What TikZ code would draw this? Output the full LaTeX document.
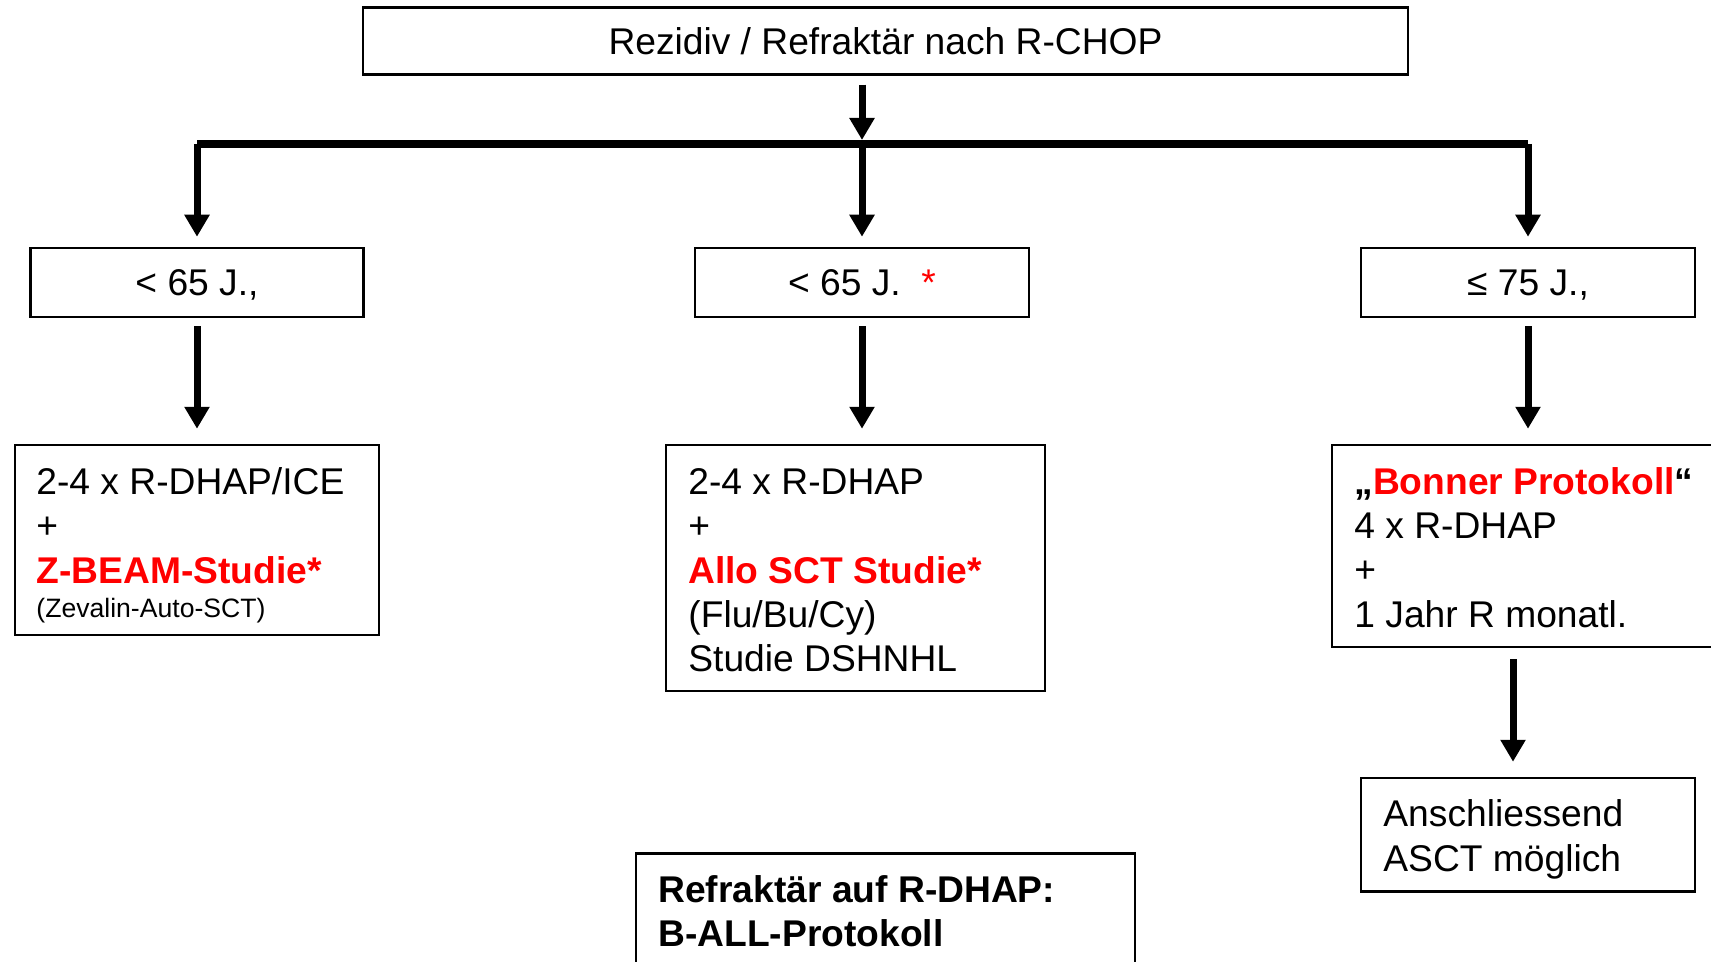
\documentclass[tikz,border=0pt]{standalone}
\usepackage{fontspec}
\setmainfont{Liberation Sans}
\usetikzlibrary{arrows.meta}
\definecolor{accent}{RGB}{255,0,0}

\begin{document}
\begin{tikzpicture}[x=0.5pt, y=-0.5pt,
  box/.style={draw=black, line width=1.25pt, inner sep=0pt},
  oneline/.style={box, font=\fontsize{18.6}{22}\selectfont,
    text height=13.3pt, text depth=0pt},
  txt/.style={anchor=base west, inner sep=0pt, font=\fontsize{18.6}{22}\selectfont},
  small/.style={txt, font=\fontsize{13.3}{16}\selectfont},
  arr/.style={line width=3.5pt, line cap=butt,
    -{Triangle[length=11pt, width=12pt]}},
  bar/.style={line width=4pt, line cap=butt},
  hot/.style={text=accent, font=\fontsize{18.6}{22}\selectfont\bfseries}]

\useasboundingbox (0,0) rectangle (1711,962);
\clip (0,0) rectangle (1711,962);

% --- boxes -----------------------------------------------------------
\node[oneline, minimum width=522.5pt, minimum height=33.5pt] (top) at (885.5,41)
  {Rezidiv / Refraktär nach R-CHOP};

\node[oneline, minimum width=166.5pt, minimum height=34.5pt] (age1) at (197,282.5)
  {< 65 J.,};
\node[oneline, minimum width=167pt, minimum height=34.5pt] (age2) at (862,282.5)
  {< 65 J.\hspace{0.556em}\textcolor{accent}{*}};
\node[oneline, minimum width=167pt, minimum height=34.5pt] (age3) at (1528,282.5)
  {≤ 75 J.,};

\node[box, minimum width=182pt, minimum height=95pt] (res1) at (197,540) {};
\node[box, minimum width=189.5pt, minimum height=123pt] (res2) at (855.5,568) {};
\node[box, minimum width=199pt, minimum height=101pt] (res3) at (1531,546) {};
\node[box, minimum width=167pt, minimum height=56.75pt] (asct) at (1528,834.75) {};
\node[box, minimum width=249.5pt, minimum height=68.25pt] (ball) at (885.5,921.75) {};

% --- box texts ---------------------------------------------------------
\node[txt] (r1a) at (36,494) {2-4 x R-DHAP/ICE};
\node[txt] (r1b) at (36,538) {+};
\node[txt, hot] (r1c) at (36,583) {Z-BEAM-Studie*};
\node[small] (r1d) at (36,617) {(Zevalin-Auto-SCT)};

\node[txt] (r2a) at (688,494) {2-4 x R-DHAP};
\node[txt] (r2b) at (688,538) {+};
\node[txt, hot] (r2c) at (688,583) {Allo SCT Studie*};
\node[txt] (r2d) at (688,627) {(Flu/Bu/Cy)};
\node[txt] (r2e) at (688,671) {Studie DSHNHL};

\node[txt] (r3a) at (1354,494)
  {\bfseries „\textcolor{accent}{Bonner Protokoll}“};
\node[txt] (r3b) at (1354,538) {4 x R-DHAP};
\node[txt] (r3c) at (1354,582) {+};
\node[txt] (r3d) at (1354,627) {1 Jahr R monatl.};

\node[txt] (a1) at (1383,826) {Anschliessend};
\node[txt] (a2) at (1383,871) {ASCT möglich};

\node[txt] (b1) at (658,902) {\bfseries Refraktär auf R-DHAP:};
\node[txt] (b2) at (658,946) {\bfseries B-ALL-Protokoll};

% --- connectors ----------------------------------------------------------
\coordinate (hub) at (862,144);
\coordinate (jl) at (197,144);
\coordinate (jr) at (1528,144);
\coordinate (dropx) at (1513,700);

\draw[bar] (jl) -- (jr);
\draw[arr, shorten <=4.5pt, shorten >=2pt] (top.south -| hub) -- (hub);

\draw[arr, shorten >=5pt] (jl) -- (age1.north);
\draw[arr, shorten >=5pt] (hub) -- (age2.north);
\draw[arr, shorten >=5pt] (jr) -- (age3.north);

\draw[arr, shorten <=4pt, shorten >=7.5pt] (age1.south) -- (age1.south |- res1.north);
\draw[arr, shorten <=4pt, shorten >=7.5pt] (age2.south) -- (age2.south |- res2.north);
\draw[arr, shorten <=4pt, shorten >=7.5pt] (age3.south) -- (age3.south |- res3.north);

\draw[arr, shorten <=5.5pt, shorten >=7.5pt] (res3.south -| dropx) -- (asct.north -| dropx);

\end{tikzpicture}
\end{document}
